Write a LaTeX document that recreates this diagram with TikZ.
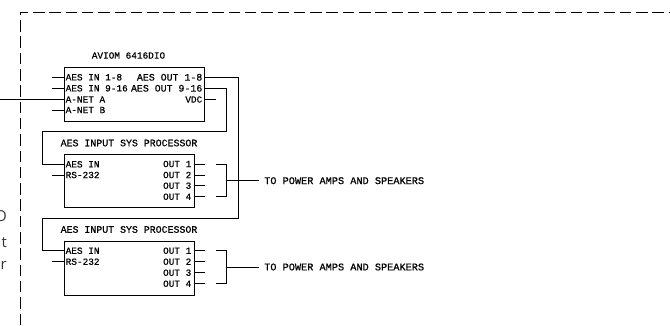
\documentclass[tikz,border=0pt]{standalone}
\usepackage{fontspec}
\setmainfont{Liberation Sans}
\newfontfamily\cadfont{Liberation Mono}[FakeBold=0.6]
\newfontfamily\notefont{Open Sans}
\tikzset{
  x=1pt,y=-1pt,
  wire/.style={line width=0.9pt,line cap=butt},
  devbox/.style={draw,line width=1pt,inner sep=0pt,anchor=north west},
  lab/.style={font=\cadfont\fontsize{9.4}{10}\selectfont,inner sep=0pt,text=black},
  pinl/.style={lab,anchor=west},
  pinr/.style={lab,anchor=east},
  pinrw/.style={lab,anchor=east,font=\cadfont\fontsize{9.9}{10}\selectfont},
  title/.style={lab,anchor=center},
  widetitle/.style={lab,anchor=center,font=\cadfont\fontsize{9.9}{10}\selectfont},
  dest/.style={lab,anchor=west,font=\cadfont\fontsize{10.25}{11}\selectfont},
  border/.style={line width=1pt,dash pattern=on 11.5pt off 4.8pt},
  note/.style={font=\notefont\fontsize{15}{18}\selectfont,text=black!80,inner sep=0pt,anchor=east}
}
\begin{document}
\begin{tikzpicture}
\useasboundingbox (0,0) rectangle (670,325);
% dashed boundary
\coordinate (bl) at (20,325);
\coordinate (tl) at (20,12);
\coordinate (tr) at (670,12);
\draw[border] (bl) -- (tl) -- (tr);
\node[note] (n1) at (7,216) {O};
\node[note] (n2) at (7,243) {t};
\node[note] (n3) at (7,265) {r};
% boxes
\node[devbox,minimum width=140.5pt,minimum height=54pt] (A) at (63.5,66.7) {};
\node[devbox,minimum width=130.5pt,minimum height=53.3pt] (B) at (63.5,154) {};
\node[devbox,minimum width=130.5pt,minimum height=54pt] (C) at (63.5,240.7) {};
\node[title] (ta) at (128.5,55.5) {AVIOM 6416DIO};
\node[widetitle] (tb) at (129,143) {AES INPUT SYS PROCESSOR};
\node[widetitle] (tc) at (129,229.5) {AES INPUT SYS PROCESSOR};
% box A labels
\node[pinl] (a1) at (65.5,77.3) {AES IN 1-8};
\node[pinl] (a2) at (65.5,88.3) {AES IN 9-16};
\node[pinl] (a3) at (65.5,99.5) {A-NET A};
\node[pinl] (a4) at (65.5,110) {A-NET B};
\node[pinrw] (a5) at (202.5,77.3) {AES OUT 1-8};
\node[pinrw] (a6) at (202.5,88.3) {AES OUT 9-16};
\node[pinr] (a7) at (202.5,99.5) {VDC};
% box B labels
\node[pinl] (b1) at (65.5,164.3) {AES IN};
\node[pinl] (b2) at (65.5,175) {RS-232};
\node[pinr] (b3) at (191.5,164) {OUT 1};
\node[pinr] (b4) at (191.5,175) {OUT 2};
\node[pinr] (b5) at (191.5,185.7) {OUT 3};
\node[pinr] (b6) at (191.5,196.7) {OUT 4};
% box C labels
\node[pinl] (c1) at (65.5,250.7) {AES IN};
\node[pinl] (c2) at (65.5,261.7) {RS-232};
\node[pinr] (c3) at (191.5,250.7) {OUT 1};
\node[pinr] (c4) at (191.5,261.7) {OUT 2};
\node[pinr] (c5) at (191.5,272.7) {OUT 3};
\node[pinr] (c6) at (191.5,283.7) {OUT 4};
% destinations
\node[dest] (pa1) at (264,180.7) {TO POWER AMPS AND SPEAKERS};
\node[dest] (pa2) at (264,267) {TO POWER AMPS AND SPEAKERS};
% left stubs
\draw[wire] (52,77.3) -- (63.5,77.3);
\draw[wire] (52,88.3) -- (63.5,88.3);
\draw[wire] (0,99.5) -- (63.5,99.5);
\draw[wire] (52,110) -- (63.5,110);
\draw[wire] (52,175) -- (63.5,175);
\draw[wire] (52,261.7) -- (63.5,261.7);
% right stubs
\draw[wire] (204,99.5) -- (216,99.5);
\foreach \y in {164,175,185.7,196.7,250.7,261.7,272.7,283.7}
  \draw[wire] (194,\y) -- (205,\y);
% AES links
\draw[wire] (204,77.3) -| (238,218) -| (42,250.7) -- (63.5,250.7);
\draw[wire] (204,88.3) -| (226.5,131.7) -| (42,164.3) -- (63.5,164.3);
% output brackets
\draw[wire] (216,164) -| (226.5,196.7) -- (216,196.7);
\draw[wire] (226.5,180.7) -- (259.3,180.7);
\draw[wire] (216,250.7) -| (226.5,283.7) -- (216,283.7);
\draw[wire] (226.5,267) -- (259.3,267);
\end{tikzpicture}
\end{document}
